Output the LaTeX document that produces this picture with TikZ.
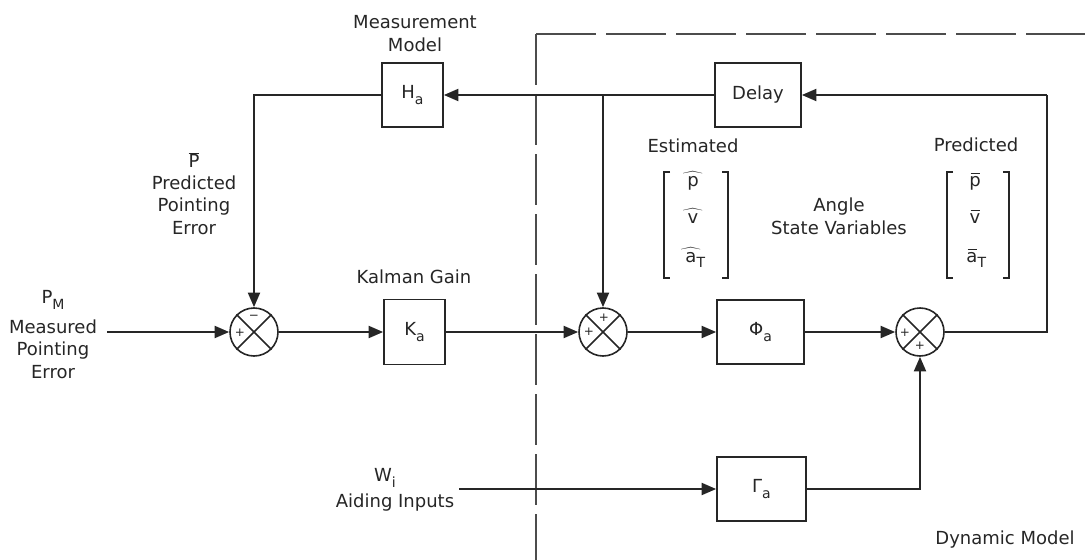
\documentclass[tikz,border=0pt]{standalone}
\usepackage{fontspec}
\setmainfont{DejaVu Sans}
\usetikzlibrary{arrows.meta}
\newcommand\lsub[1]{\raisebox{-0.55ex}{\fontsize{10.5}{12}\selectfont #1}}
\newcommand\hatx[1]{\ooalign{\hidewidth$\widehat{\mbox{\phantom{nn}}}$\hidewidth\cr#1\cr}}
\newcommand\barx[1]{\ooalign{\hidewidth\raisebox{1.25ex}{\rule{0.5em}{0.6pt}}\hidewidth\cr#1\cr}}
\begin{document}
\begin{tikzpicture}[x=0.75pt,y=-0.75pt,
  conn/.style={line width=1.7pt, draw=black!85},
  blk/.style={draw=black!85, line width=1.2pt, minimum height=48pt, inner sep=0pt,
    font=\fontsize{13.5}{15}\selectfont, text=black!85},
  sumj/.style={circle, draw=black!85, line width=1.2pt, minimum size=36pt, inner sep=0pt},
  lbl/.style={inner sep=0pt, align=center, font=\fontsize{13.5}{17}\selectfont, text=black!85},
  vec/.style={inner sep=0pt, font=\fontsize{13.5}{14}\selectfont, text=black!85},
  sgn/.style={inner sep=0pt, font=\fontsize{9}{10}\selectfont, text=black!85},
  brk/.style={line width=1.1pt, draw=black!85},
  >={Triangle[length=11pt,width=9pt]},
  bordh/.style={line width=1.1pt, draw=black!70, dash pattern=on 45pt off 7.5pt},
  bordv/.style={line width=1.1pt, draw=black!70, dash pattern=on 38pt off 7pt}]
\useasboundingbox (0,0) rectangle (1085,560);

% dashed boundary of the dynamic model
\coordinate (bc) at (536,34);
\coordinate (bt) at (1085,34);
\coordinate (bb) at (536,560);
\draw[bordh] (bc) -- (bt);
\draw[bordv] (bc) -- (bb);

% blocks
\node[blk, minimum width=45.75pt] (ha) at (412.5,95) {H\lsub{a}};
\node[blk, minimum width=64.5pt] (delay) at (758,95) {Delay};
\node[blk, minimum width=45.75pt, minimum height=48.75pt] (ka) at (414.5,332) {K\lsub{a}};
\node[blk, minimum width=65.25pt] (phi) at (760.5,332) {Φ\lsub{a}};
\node[blk, minimum width=66.75pt] (gam) at (761.5,489) {Γ\lsub{a}};

% summing junctions
\node[sumj] (s1) at (254,332) {};
\node[sumj] (s2) at (603,332) {};
\node[sumj] (s3) at (920,332) {};
\foreach \s in {s1,s2,s3}{
  \draw[line width=1.2pt, draw=black!85] (\s.45) -- (\s.225);
  \draw[line width=1.2pt, draw=black!85] (\s.135) -- (\s.315);
}
\node[sgn] (s1a) at (254,317) {−};
\node[sgn] (s1b) at (240,333) {+};
\node[sgn] (s2a) at (604,318) {+};
\node[sgn] (s2b) at (589,332) {+};
\node[sgn] (s3a) at (905,333) {+};
\node[sgn] (s3b) at (920,346) {+};

% labels
\node[lbl] (mm) at (415,33.5) {Measurement\\Model};
\node[lbl] (pbar) at (194,160) {$\overline{\mbox{P}}$};
\node[lbl] (ppe) at (194,205) {Predicted\\Pointing\\Error};
\node[lbl] (pm) at (53,300) {P\lsub{M}};
\node[lbl] (mpe) at (53,349) {Measured\\Pointing\\Error};
\node[lbl] (kg) at (414,277) {Kalman Gain};
\node[lbl] (est) at (693,146) {Estimated};
\node[lbl] (pred) at (976,145) {Predicted};
\node[lbl] (asv) at (839,216.5) {Angle\\State Variables};
\node[lbl] (wi) at (385,478) {W\lsub{i}};
\node[lbl] (ai) at (395,503) {Aiding Inputs};
\node[lbl] (dm) at (1005,540) {Dynamic Model};

% state vectors
\node[vec, anchor=base] (e1) at (693,186) {\hatx{p}};
\node[vec, anchor=base] (e2) at (693,223) {\hatx{v}};
\node[vec, anchor=base] (e3) at (691,262) {\hatx{a}\rlap{\lsub{T}}};
\draw[brk] (670,172) -- (664,172) -- (664,278) -- (670,278);
\draw[brk] (722,172) -- (728,172) -- (728,278) -- (722,278);
\node[vec, anchor=base] (p1) at (975,186) {\barx{p}};
\node[vec, anchor=base] (p2) at (975,223) {\barx{v}};
\node[vec, anchor=base] (p3) at (972,262) {\barx{a}\rlap{\lsub{T}}};
\draw[brk] (953,172) -- (947,172) -- (947,278) -- (953,278);
\draw[brk] (1003,172) -- (1009,172) -- (1009,278) -- (1003,278);

% connectors
\coordinate (pmin) at (107,332);
\coordinate (wiin) at (459,489);
\coordinate (cr1) at (1047,332);
\coordinate (cr2) at (1047,95);
\coordinate (j1) at (603,95);

\draw[conn,->] (pmin) -- (s1.west);
\draw[conn,->] (s1.east) -- (ka.west);
\draw[conn,->] (ka.east) -- (s2.west);
\draw[conn,->] (s2.east) -- (phi.west);
\draw[conn,->] (phi.east) -- (s3.west);
\draw[conn] (s3.east) -- (cr1) -- (cr2);
\draw[conn,->] (cr2) -- (delay.east);
\draw[conn,->] (delay.west) -- (ha.east);
\draw[conn,->] (j1) -- (s2.north);
\draw[conn,->] (ha.west) -| (s1.north);
\draw[conn,->] (wiin) -- (gam.west);
\draw[conn,->] (gam.east) -| (s3.south);
\end{tikzpicture}
\end{document}
